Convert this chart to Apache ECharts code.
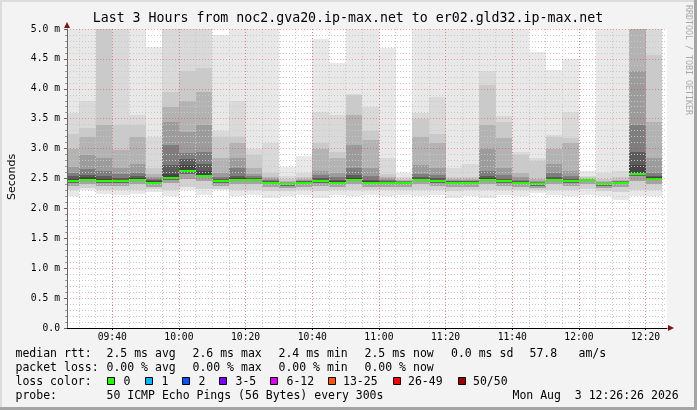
<!DOCTYPE html>
<html><head><meta charset="utf-8">
<script src="https://cdn.jsdelivr.net/npm/echarts@6/dist/echarts.min.js"></script>
<style>html,body{margin:0;padding:0;background:#f3f3f3}#c{width:697px;height:410px}</style>
</head><body><div id="c"></div>
<script>
// bar start times (5 minute steps)
const categories = ['09:25','09:30','09:35','09:40','09:45','09:50','09:55','10:00','10:05','10:10','10:15','10:20',
  '10:25','10:30','10:35','10:40','10:45','10:50','10:55','11:00','11:05','11:10','11:15','11:20',
  '11:25','11:30','11:35','11:40','11:45','11:50','11:55','12:00','12:05','12:10','12:15','12:20'];
const xTickLabels = ['09:40','10:00','10:20','10:40','11:00','11:20','11:40','12:00','12:20'];
// median rtt (ms)
const median = [2.46,2.48,2.46,2.45,2.48,2.43,2.51,2.62,2.55,2.45,2.48,2.48,2.43,2.41,2.43,2.46,2.43,2.48,2.43,2.43,2.43,2.48,2.46,2.43,2.43,2.48,2.45,2.43,2.41,2.48,2.46,2.48,2.41,2.43,2.58,2.50];
// upper smoke: ping values ranked from the top (1 = max) ... (values above 5 are clipped)
const hi1  = [5.6,5.6,5.6,5.6,5.6,4.7,5.6,5.6,5.6,4.9,5.6,5.6,5.6,2.69,2.88,4.83,4.43,5.6,5.6,4.68,2.6,5.6,5.6,5.6,5.6,5.6,5.6,5.6,4.62,4.31,4.5,2.62,5.6,5.6,5.6,5.6];
const hi3  = [3.6,3.8,5.6,5.6,3.56,3.2,5.6,5.6,5.6,3.3,3.79,3.0,3.1,2.55,2.6,3.61,3.56,3.92,3.7,2.84,2.52,3.6,3.87,2.67,2.75,4.29,3.55,2.95,2.84,3.23,3.62,2.55,2.6,2.62,5.6,5.6];
const hi5  = [3.25,3.35,5.6,3.4,3.4,2.67,3.95,4.29,4.35,3.2,3.2,2.9,2.6,2.49,2.53,3.1,2.95,3.9,3.3,2.58,2.49,3.5,3.25,2.53,2.52,4.06,3.45,2.9,2.8,3.2,3.17,2.52,2.5,2.52,5.6,4.57];
const hi8  = [3.0,3.2,3.4,2.97,3.2,2.58,3.7,3.79,3.95,2.84,3.1,2.67,2.53,2.46,2.5,3.0,2.85,3.56,3.15,2.52,2.47,3.2,3.1,2.49,2.49,3.39,3.17,2.6,2.5,3.0,3.1,2.5,2.46,2.48,5.6,3.45];
const hi11 = [2.7,2.9,2.84,2.68,2.75,2.53,3.45,3.28,3.4,2.6,2.84,2.58,2.49,2.44,2.48,2.62,2.6,3.06,2.67,2.49,2.46,2.73,2.67,2.47,2.47,3.0,2.67,2.52,2.46,2.75,2.62,2.49,2.44,2.46,4.29,2.84];
const hi15 = [2.6,2.66,2.62,2.58,2.6,2.5,3.06,2.92,2.95,2.53,2.67,2.54,2.47,2.43,2.46,2.56,2.52,2.67,2.55,2.47,2.45,2.58,2.56,2.46,2.46,2.62,2.56,2.48,2.44,2.6,2.54,2.49,2.43,2.45,3.39,2.6];
const hi20 = [2.54,2.56,2.54,2.51,2.54,2.47,2.73,2.82,2.75,2.49,2.55,2.51,2.45,2.42,2.45,2.51,2.47,2.56,2.48,2.45,2.44,2.53,2.51,2.45,2.45,2.55,2.5,2.46,2.43,2.53,2.5,2.48,2.42,2.44,2.95,2.55];
const hi23 = [2.5,2.52,2.5,2.48,2.51,2.45,2.58,2.72,2.63,2.47,2.51,2.5,2.44,2.415,2.44,2.48,2.45,2.51,2.45,2.44,2.435,2.5,2.48,2.44,2.44,2.51,2.47,2.44,2.42,2.5,2.48,2.48,2.415,2.435,2.73,2.52];
// lower smoke: ping values ranked from the bottom (1 = min)
const lo1  = [2.2,2.3,2.24,2.22,2.24,2.27,2.2,2.3,2.22,2.3,2.2,2.22,2.18,2.2,2.22,2.18,2.22,2.2,2.22,2.2,2.22,2.2,2.22,2.18,2.2,2.18,2.22,2.2,2.25,2.22,2.2,2.22,2.2,2.14,2.2,2.2];
const lo4  = [2.3,2.34,2.3,2.3,2.31,2.32,2.3,2.36,2.32,2.33,2.3,2.31,2.29,2.29,2.31,2.29,2.3,2.31,2.31,2.3,2.31,2.3,2.31,2.29,2.3,2.3,2.31,2.3,2.31,2.31,2.3,2.32,2.29,2.27,2.31,2.3];
const lo10 = [2.38,2.4,2.38,2.37,2.4,2.36,2.42,2.5,2.45,2.38,2.4,2.4,2.36,2.34,2.36,2.38,2.36,2.4,2.36,2.36,2.36,2.4,2.38,2.36,2.36,2.4,2.37,2.36,2.34,2.4,2.38,2.4,2.34,2.36,2.46,2.41];
const lo18 = [2.43,2.45,2.43,2.42,2.45,2.4,2.48,2.58,2.52,2.42,2.45,2.45,2.4,2.38,2.4,2.43,2.4,2.45,2.4,2.4,2.4,2.45,2.43,2.4,2.4,2.45,2.42,2.4,2.38,2.45,2.43,2.45,2.38,2.4,2.54,2.47];

const lossLabels = ['0','1','2','3-5','6-12','13-25','26-49','50/50'];
const lossColors = ['#26ff00','#00b8ff','#0059ff','#7e00ff','#dd00ff','#ff5500','#ff0000','#a10000'];

const upColors = ['#e8e8e8','#d9d9d9','#cacaca','#b3b3b3','#9c9c9c','#7e7e7e','#5c5c5c','#454545'];
const loColors = ['#e8e8e8','#d1d1d1','#a4a4a4','#676767'];

const tMin = Date.UTC(2026,7,3,9,26,26), tMax = Date.UTC(2026,7,3,12,26,26);
const STEP = 5*60000;
function toTime(s){const p=s.split(':').map(Number); return Date.UTC(2026,7,3,p[0],p[1]);}
function hhmm(v){const d=new Date(v);return String(d.getUTCHours()).padStart(2,'0')+':'+String(d.getUTCMinutes()).padStart(2,'0');}
const rows = categories.map((c,i)=>{const t=toTime(c);return [t,t+STEP,median[i],hi1[i],hi3[i],hi5[i],hi8[i],hi11[i],hi15[i],hi20[i],hi23[i],lo1[i],lo4[i],lo10[i],lo18[i]];});

function renderItem(params, api){
  const cs = params.coordSys;
  const top = cs.y, bottom = cs.y + cs.height;
  let x0 = Math.round(api.coord([api.value(0),0])[0]);
  let x1 = Math.round(api.coord([api.value(1),0])[0]);
  x0 = Math.max(x0, cs.x); x1 = Math.min(x1, cs.x + cs.width);
  if (x1 <= x0) return;
  const Y = v => Math.min(bottom, Math.max(top, Math.round(api.coord([api.value(0), v])[1])));
  const yM = Y(api.value(2));
  const kids = [];
  for (let k=0;k<8;k++){const yt=Y(api.value(3+k)); if(yM-yt>0) kids.push({type:'rect',shape:{x:x0,y:yt,width:x1-x0,height:yM-yt},style:{fill:upColors[k]}});}
  for (let k=0;k<4;k++){const yb=Y(api.value(11+k)); if(yb-yM>0) kids.push({type:'rect',shape:{x:x0,y:yM,width:x1-x0,height:yb-yM},style:{fill:loColors[k]}});}
  kids.push({type:'rect',shape:{x:x0,y:yM-1,width:x1-x0,height:2},style:{fill:lossColors[0]}});
  return {type:'group',children:kids};
}

const MONO = 'DejaVu Sans Mono';
const LF = 11.5;
function txt(s,x,y,extra){return Object.assign({type:'text',x:x,y:y,silent:true,style:{text:s,fill:'#000',fontFamily:MONO,fontSize:LF,align:'left',verticalAlign:'middle'}},extra||{});}
const els = [
  {type:'rect',shape:{x:0,y:0,width:697,height:2},style:{fill:'#dcdcdc'},silent:true},
  {type:'rect',shape:{x:0,y:0,width:2,height:410},style:{fill:'#dcdcdc'},silent:true},
  {type:'rect',shape:{x:694,y:0,width:3,height:410},style:{fill:'#a4a4a4'},silent:true},
  {type:'rect',shape:{x:0,y:407,width:697,height:3},style:{fill:'#a4a4a4'},silent:true},
  txt('Last 3 Hours from noc2.gva20.ip-max.net to er02.gld32.ip-max.net',348,19,{style:{text:'Last 3 Hours from noc2.gva20.ip-max.net to er02.gld32.ip-max.net',fill:'#000',fontFamily:MONO,fontSize:13.25,align:'center',verticalAlign:'middle'}}),
  {type:'text',x:12,y:177,rotation:Math.PI/2,silent:true,style:{text:'Seconds',fill:'#000',fontFamily:'DejaVu Sans',fontSize:11,align:'center',verticalAlign:'middle'}},
  {type:'text',x:688,y:60,rotation:-Math.PI/2,silent:true,style:{text:'RRDTOOL / TOBI OETIKER',fill:'#a8a8a8',fontFamily:MONO,fontSize:8.3,align:'center',verticalAlign:'middle'}},
  txt('median rtt:',15.5,354), txt('2.5 ms avg',106.5,354), txt('2.6 ms max',192.5,354), txt('2.4 ms min',278.5,354),
  txt('2.5 ms now',364.5,354), txt('0.0 ms sd',451,354), txt('57.8',529.5,354), txt('am/s',578.5,354),
  txt('packet loss:',15.5,368), txt('0.00 % avg',106.5,368), txt('0.00 % max',192.5,368), txt('0.00 % min',278.5,368), txt('0.00 % now',364.5,368),
  txt('loss color:',15.5,382),
  txt('probe:',15.5,396.5), txt('50 ICMP Echo Pings (56 Bytes) every 300s',106.5,396.5), txt('Mon Aug  3 12:26:26 2026',512.5,396.5)
];
const boxX = [107.5,145.5,182.5,219.5,270.5,328.5,393.5,458.5];
const labX = [123.5,161.5,198.5,235.5,286.5,343,408,473];
lossLabels.forEach((l,i)=>{
  els.push({type:'rect',silent:true,shape:{x:boxX[i],y:377.5,width:7,height:7},style:{fill:lossColors[i],stroke:'#000',lineWidth:1}});
  els.push(txt(l,labX[i],382));
});

const chart = echarts.init(document.getElementById('c'), null, {renderer:'canvas'});
chart.setOption({
  backgroundColor:'#f3f3f3',
  useUTC:true,
  animation:false,
  grid:{left:67,top:29,width:600,height:299,show:true,backgroundColor:'#ffffff',borderWidth:0,containLabel:false,outerBoundsMode:'none'},
  xAxis:[
    {type:'time',position:'bottom',min:tMin,max:tMax,minInterval:25*60000,maxInterval:25*60000,z:6,
     axisLine:{show:true,onZero:false,lineStyle:{color:'#000',width:1}},
     axisTick:{show:true,length:2,lineStyle:{color:'#000'}},
     axisLabel:{fontFamily:MONO,fontSize:9.7,color:'#000',margin:4,hideOverlap:false,
       formatter:function(v){const s=hhmm(v);return xTickLabels.indexOf(s)>=0 && (v%60000===0)?s:'';}},
     splitLine:{show:true,showMinLine:false,showMaxLine:false,lineStyle:{color:'rgba(255,0,0,0.35)',width:1,type:[1,2]}}},
    {type:'time',position:'bottom',min:tMin,max:tMax,minInterval:7*60000,maxInterval:7*60000,z:5,
     axisLine:{show:false},axisTick:{show:false},axisLabel:{show:false},
     splitLine:{show:true,showMinLine:false,showMaxLine:false,lineStyle:{color:'#c8c8c8',width:1,type:[1,2]}}},
    {type:'value',position:'bottom',min:0,max:1,z:7,
     axisLine:{show:true,onZero:false,symbol:['none','triangle'],symbolSize:[6,6],symbolOffset:[0,4],lineStyle:{color:'#7f1414',width:0}},
     axisTick:{show:false},axisLabel:{show:false},splitLine:{show:false}}
  ],
  yAxis:[
    {type:'value',position:'left',min:0,max:5,interval:0.5,z:6,
     axisLine:{show:true,onZero:false,lineStyle:{color:'#666',width:1}},
     axisTick:{show:true,length:3,lineStyle:{color:'#666'}},
     minorTick:{show:true,splitNumber:5,length:2,lineStyle:{color:'#999'}},
     axisLabel:{fontFamily:MONO,fontSize:9.7,color:'#000',margin:7,
       formatter:function(v){return v===0?'0.0':v.toFixed(1)+' m';}},
     splitLine:{show:true,showMinLine:false,lineStyle:{color:'rgba(255,0,0,0.35)',width:1,type:[1,2]}},
     minorSplitLine:{show:true,lineStyle:{color:'#c8c8c8',width:1,type:[1,2]}}},
    {type:'value',min:0,max:1,position:'left',z:7,
     axisLine:{show:true,onZero:false,symbol:['none','triangle'],symbolSize:[6,6],symbolOffset:[0,4],lineStyle:{color:'#7f1414',width:0}},
     axisTick:{show:false},axisLabel:{show:false},splitLine:{show:false}}
  ],
  series:[{type:'custom',xAxisIndex:0,yAxisIndex:0,clip:true,silent:true,z:2,
    encode:{x:[0,1],y:[2,3]},renderItem:renderItem,data:rows}],
  graphic:{elements:els}
});
</script></body></html>
